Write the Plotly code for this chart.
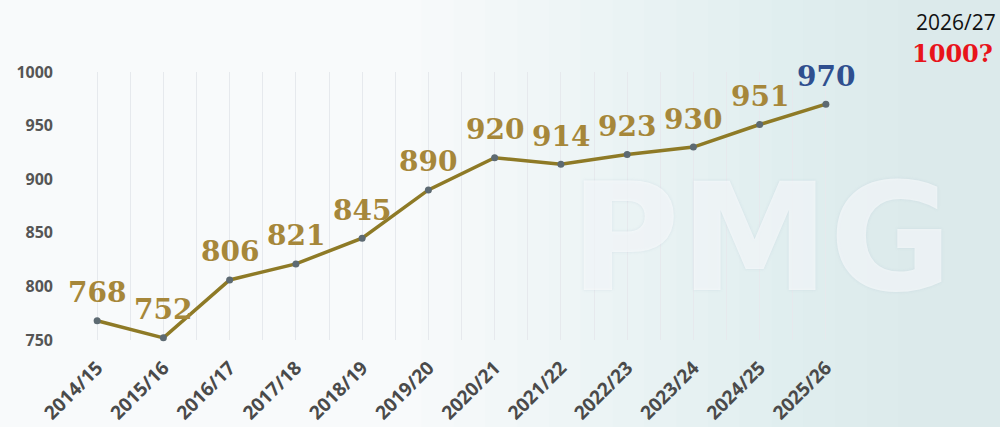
import plotly.graph_objects as go

seasons = ["2014/15", "2015/16", "2016/17", "2017/18", "2018/19", "2019/20",
           "2020/21", "2021/22", "2022/23", "2023/24", "2024/25", "2025/26"]
values = [768, 752, 806, 821, 845, 890, 920, 914, 923, 930, 951, 970]
y_ticks = [750, 800, 850, 900, 950, 1000]
next_season = "2026/27"
next_value = "1000?"

gold = "#a6873a"
blue = "#2f4f8f"
label_colors = [gold] * (len(values) - 1) + [blue]
xs = list(range(len(seasons)))

fig = go.Figure()
fig.add_trace(go.Scatter(
    x=xs, y=values, mode="lines+markers",
    line=dict(color="#8e7a26", width=3.5),
    marker=dict(color="#5d6a72", size=7),
    cliponaxis=False,
    showlegend=False,
))

for x, v, c in zip(xs, values, label_colors):
    fig.add_annotation(x=x, y=v, text=str(v), showarrow=False, yshift=28,
                       font=dict(family="DejaVu Serif", size=28, color=c, weight="bold"))

# soft bluish background towards the right (decorative gradient)
for i in range(16):
    x0 = 0.45 + i * 0.04
    fig.add_shape(type="rect", xref="paper", yref="paper", x0=x0, x1=1.2, y0=-0.4, y1=1.3,
                  fillcolor="rgba(196,212,228,0.03)", line_width=0, layer="below")

# faint watermark
fig.add_annotation(text="PMG", xref="paper", yref="paper", x=1.12, y=0.38,
                   showarrow=False,
                   font=dict(family="DejaVu Sans", size=150, color="rgba(255,255,255,0.6)",
                             weight="bold", shadow="0px 0px 3px rgba(170,190,210,0.5)"))

fig.add_annotation(text=next_season, xref="paper", yref="paper", x=1.122, y=1.187,
                   showarrow=False, xanchor="center", yanchor="middle",
                   font=dict(family="Open Sans", size=21, color="#111111"))
fig.add_annotation(text=next_value, xref="paper", yref="paper", x=1.118, y=1.07,
                   showarrow=False, xanchor="center", yanchor="middle",
                   font=dict(family="DejaVu Serif", size=24, color="#e8141b", weight="bold"))

fig.update_layout(
    width=1000, height=427,
    margin=dict(l=64, r=141, t=72, b=87, autoexpand=False),
    paper_bgcolor="#f8fafb",
    plot_bgcolor="rgba(0,0,0,0)",
    xaxis=dict(range=[-0.5, len(seasons) - 0.5], tickvals=xs, ticktext=seasons,
               tickangle=-45, showgrid=True, gridcolor="#e6e9ed", gridwidth=1,
               zeroline=False, showline=False, ticks="", ticklabelstandoff=12,
               automargin=False,
               tickfont=dict(family="Open Sans", size=19, color="#4a4a4a", weight="bold"),
               minor=dict(tick0=0.5, dtick=1, showgrid=True, gridcolor="#e6e9ed")),
    yaxis=dict(range=[750, 1000], tickvals=y_ticks, showgrid=False, zeroline=False,
               showline=False, ticks="", ticklabelstandoff=10, automargin=False,
               tickfont=dict(family="Open Sans", size=16, color="#555555", weight="bold")),
)

fig.write_html("out.html", config={"displayModeBar": False},
               post_script="document.body.style.margin='0';")
